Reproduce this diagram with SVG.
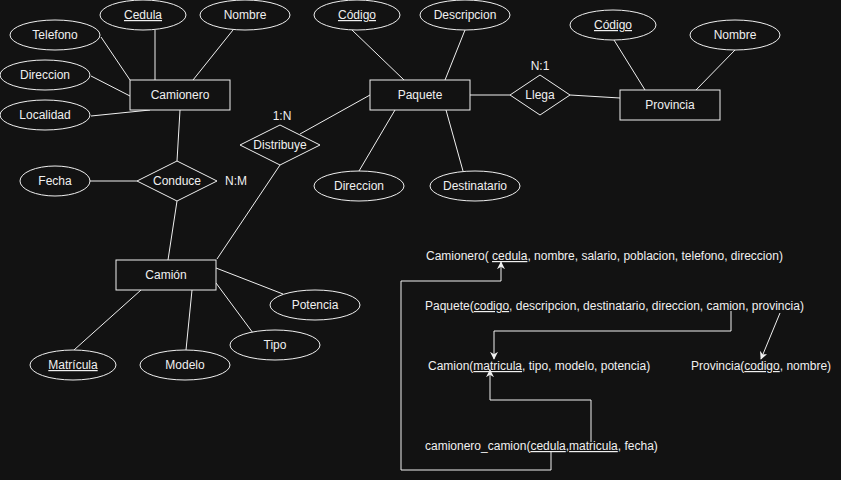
<svg xmlns="http://www.w3.org/2000/svg" width="841" height="480" viewBox="0 0 841 480">
<defs>
<style>
.bg{fill:#121212}
.sh{fill:#121212;stroke:#f0f0f0;stroke-width:1}
.ln{fill:none;stroke:#f0f0f0;stroke-width:1}
text{font-family:"Liberation Sans",Arial,sans-serif;font-size:12px;fill:#f0f0f0}
.c{text-anchor:middle}
.u{text-decoration:underline}
</style>
<marker id="arr" viewBox="0 0 10 10" refX="9" refY="5" markerWidth="8" markerHeight="8" markerUnits="userSpaceOnUse" orient="auto">
<path d="M0,0 L10,5 L0,10 L3,5 Z" fill="#f0f0f0"/>
</marker>
</defs>
<rect class="bg" x="0" y="0" width="841" height="480"/>

<g id="connectors">
<line class="ln" x1="155" y1="30" x2="155" y2="80"/>
<line class="ln" x1="233" y1="30" x2="193" y2="80"/>
<line class="ln" x1="101" y1="37" x2="130" y2="80"/>
<line class="ln" x1="91" y1="76" x2="130" y2="96"/>
<line class="ln" x1="91" y1="116" x2="150" y2="110"/>
<line class="ln" x1="180" y1="110" x2="177" y2="161"/>
<line class="ln" x1="90" y1="181" x2="137" y2="181"/>
<line class="ln" x1="177" y1="201" x2="168" y2="260"/>
<line class="ln" x1="280" y1="165" x2="217" y2="259"/>
<line class="ln" x1="370" y1="95" x2="300" y2="134"/>
<line class="ln" x1="352" y1="30" x2="404" y2="80"/>
<line class="ln" x1="465" y1="30" x2="445" y2="80"/>
<line class="ln" x1="395" y1="110" x2="359" y2="171"/>
<line class="ln" x1="446" y1="110" x2="463" y2="171"/>
<line class="ln" x1="470" y1="95" x2="510" y2="95"/>
<line class="ln" x1="570" y1="95" x2="620" y2="98"/>
<line class="ln" x1="614" y1="40" x2="645" y2="90"/>
<line class="ln" x1="735" y1="50" x2="696" y2="90"/>
<line class="ln" x1="216" y1="268" x2="283" y2="294"/>
<line class="ln" x1="216" y1="283" x2="253" y2="333"/>
<line class="ln" x1="141" y1="290" x2="74" y2="350"/>
<line class="ln" x1="192" y1="290" x2="186" y2="350"/>
<polyline class="ln" points="551,451 551,470 401,470 401,281 501,281 501,262" marker-end="url(#arr)"/>
<polyline class="ln" points="731,311 731,331 494,331 494,359" marker-end="url(#arr)"/>
<line class="ln" x1="780" y1="313" x2="761" y2="359" marker-end="url(#arr)"/>
<polyline class="ln" points="591,442 591,400 490,400 490,370" marker-end="url(#arr)"/>
</g>

<g id="camionero"><rect class="sh" x="130" y="80" width="100" height="30"/><text class="c" x="180" y="99">Camionero</text></g>
<g id="cedula"><ellipse class="sh" cx="143" cy="15" rx="43" ry="15"/><text class="c u" x="143" y="19">Cedula</text></g>
<g id="nombre1"><ellipse class="sh" cx="245" cy="15" rx="45" ry="15"/><text class="c" x="245" y="19">Nombre</text></g>
<g id="telefono"><ellipse class="sh" cx="55" cy="35" rx="45" ry="15"/><text class="c" x="55" y="39">Telefono</text></g>
<g id="direccion1"><ellipse class="sh" cx="45" cy="75" rx="45" ry="15"/><text class="c" x="45" y="79">Direccion</text></g>
<g id="localidad"><ellipse class="sh" cx="45" cy="115" rx="45" ry="15"/><text class="c" x="45" y="119">Localidad</text></g>

<g id="conduce"><polygon class="sh" points="137,181 177,161 217,181 177,201"/><text class="c" x="177" y="185">Conduce</text><text class="c" x="236" y="185">N:M</text></g>
<g id="fecha"><ellipse class="sh" cx="55" cy="181" rx="35" ry="15"/><text class="c" x="55" y="185">Fecha</text></g>

<g id="distribuye"><polygon class="sh" points="240,145 280,125 320,145 280,165"/><text class="c" x="280" y="149">Distribuye</text><text class="c" x="282" y="120">1:N</text></g>

<g id="paquete"><rect class="sh" x="370" y="80" width="100" height="30"/><text class="c" x="420" y="99">Paquete</text></g>
<g id="codigo1"><ellipse class="sh" cx="357" cy="15" rx="43" ry="15"/><text class="c u" x="357" y="19">Código</text></g>
<g id="descripcion"><ellipse class="sh" cx="465" cy="15" rx="45" ry="15"/><text class="c" x="465" y="19">Descripcion</text></g>
<g id="direccion2"><ellipse class="sh" cx="359" cy="186" rx="45" ry="15"/><text class="c" x="359" y="190">Direccion</text></g>
<g id="destinatario"><ellipse class="sh" cx="475" cy="186" rx="45" ry="15"/><text class="c" x="475" y="190">Destinatario</text></g>

<g id="llega"><polygon class="sh" points="510,95 540,75 570,95 540,115"/><text class="c" x="540" y="99">Llega</text><text class="c" x="540" y="70">N:1</text></g>

<g id="provincia"><rect class="sh" x="620" y="90" width="100" height="30"/><text class="c" x="670" y="109">Provincia</text></g>
<g id="codigo2"><ellipse class="sh" cx="613" cy="25" rx="43" ry="15"/><text class="c u" x="613" y="29">Código</text></g>
<g id="nombre2"><ellipse class="sh" cx="735" cy="35" rx="45" ry="15"/><text class="c" x="735" y="39">Nombre</text></g>

<g id="camion"><rect class="sh" x="116" y="260" width="100" height="30"/><text class="c" x="166" y="279">Camión</text></g>
<g id="potencia"><ellipse class="sh" cx="315" cy="305" rx="45" ry="15"/><text class="c" x="315" y="309">Potencia</text></g>
<g id="tipo"><ellipse class="sh" cx="275" cy="345" rx="45" ry="15"/><text class="c" x="275" y="349">Tipo</text></g>
<g id="matricula"><ellipse class="sh" cx="73" cy="365" rx="43" ry="15"/><text class="c u" x="73" y="369">Matrícula</text></g>
<g id="modelo"><ellipse class="sh" cx="185" cy="365" rx="45" ry="15"/><text class="c" x="185" y="369">Modelo</text></g>

<g id="rel-camionero"><text x="426" y="260">Camionero( <tspan class="u">cedula</tspan>, nombre, salario, poblacion, telefono, direccion)</text></g>
<g id="rel-paquete"><text x="425" y="310">Paquete(<tspan class="u">codigo</tspan>, descripcion, destinatario, direccion, camion, provincia)</text></g>
<g id="rel-camion"><text x="428" y="370">Camion(<tspan class="u">matricula</tspan>, tipo, modelo, potencia)</text></g>
<g id="rel-provincia"><text x="691" y="370">Provincia(<tspan class="u">codigo</tspan>, nombre)</text></g>
<g id="rel-camionero-camion"><text x="425" y="450">camionero_camion(<tspan class="u">cedula</tspan>,<tspan class="u">matricula</tspan>, fecha)</text></g>
</svg>
